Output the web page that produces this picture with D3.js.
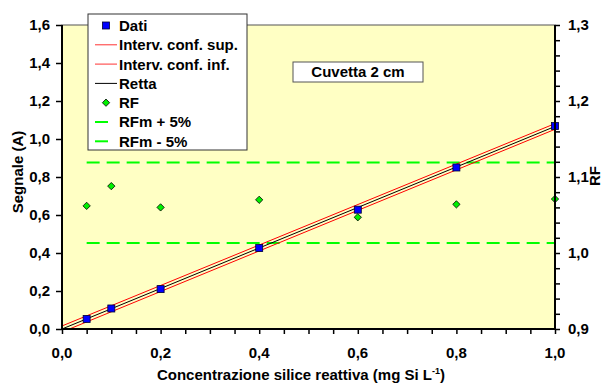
<!DOCTYPE html>
<html>
<head>
<meta charset="utf-8">
<script src="https://cdn.jsdelivr.net/npm/d3@7"></script>
<style>
  body { margin: 0; background: #fff; }
  svg { display: block; }
  svg text { font-family: "Liberation Sans", Arial, sans-serif; font-weight: 700; fill: #000; }
</style>
</head>
<body>
<svg id="chart"></svg>
<script>
// data
const conc = [0.05, 0.1, 0.2, 0.4, 0.6, 0.8, 1.0];
const segnale = [0.053, 0.108, 0.21, 0.426, 0.628, 0.85, 1.068];
const rf = [1.062, 1.088, 1.060, 1.070, 1.047, 1.064, 1.071];
const lineX = [0, 1.0];
const retta = [0.0, 1.066];
const confSup = [0.016, 1.081];
const confInf = [-0.016, 1.051];
const rfPlus = 1.119;
const rfMinus = 1.013;
const rfLineX = [0.05, 1.0];
const xTicks = [0, 0.2, 0.4, 0.6, 0.8, 1.0];
const yTicks = [0, 0.2, 0.4, 0.6, 0.8, 1.0, 1.2, 1.4, 1.6];
const y2Ticks = [0.9, 1.0, 1.1, 1.2, 1.3];
const legendItems = ['Dati', 'Interv. conf. sup.', 'Interv. conf. inf.', 'Retta', 'RF', 'RFm + 5%', 'RFm - 5%'];

const width = 604, height = 383;
const margin = { top: 25, right: 49, bottom: 54, left: 62 };
const fmt = d => d3.format('.1f')(d).replace('.', ',');
const fs = 15;

const svg = d3.select('#chart').attr('width', width).attr('height', height);

const x = d3.scaleLinear().domain([0, 1]).range([margin.left, width - margin.right]);
const y = d3.scaleLinear().domain([0, 1.6]).range([height - margin.bottom, margin.top]);
const y2 = d3.scaleLinear().domain([0.9, 1.3]).range([height - margin.bottom, margin.top]);

// plot area
svg.append('rect')
  .attr('x', x(0)).attr('y', y(1.6))
  .attr('width', x(1) - x(0)).attr('height', y(0) - y(1.6))
  .attr('fill', '#ffffc4').attr('stroke', '#555').attr('stroke-width', 1);

svg.append('clipPath').attr('id', 'clip').append('rect')
  .attr('x', x(0)).attr('y', y(1.6))
  .attr('width', x(1) - x(0)).attr('height', y(0) - y(1.6));

const plot = svg.append('g').attr('clip-path', 'url(#clip)');

// RF +/- 5% dashed lines
[rfPlus, rfMinus].forEach(v => {
  plot.append('line')
    .attr('x1', x(rfLineX[0])).attr('x2', x(rfLineX[1]))
    .attr('y1', y2(v)).attr('y2', y2(v))
    .attr('stroke', '#00ff00').attr('stroke-width', 2)
    .attr('stroke-dasharray', '13,7');
});

const line = vals => d3.line().x((d, i) => x(lineX[i])).y(d => y(d))(vals);

plot.append('path').attr('d', line(confSup)).attr('stroke', '#ff0000').attr('fill', 'none').attr('stroke-width', 1);
plot.append('path').attr('d', line(confInf)).attr('stroke', '#ff0000').attr('fill', 'none').attr('stroke-width', 1);
plot.append('path').attr('d', line(retta)).attr('stroke', '#000').attr('fill', 'none').attr('stroke-width', 1);

// RF diamonds
const diamond = d3.symbol().type(d3.symbolDiamond2).size(34);
svg.append('g').selectAll('path')
  .data(conc)
  .enter()
  .append('path')
  .attr('d', diamond)
  .attr('transform', (d, i) => 'translate(' + x(d) + ',' + y2(rf[i]) + ')')
  .attr('fill', '#00f000').attr('stroke', '#000').attr('stroke-width', 0.8);

// data squares
svg.append('g').selectAll('rect')
  .data(conc)
  .enter()
  .append('rect')
  .attr('x', d => x(d) - 3.5)
  .attr('y', (d, i) => y(segnale[i]) - 3.5)
  .attr('width', 7).attr('height', 7)
  .attr('fill', '#0000ff').attr('stroke', '#000033').attr('stroke-width', 0.8);

// axes
const xAxis = svg.append('g').attr('transform', 'translate(0,' + y(0) + ')');
xAxis.call(d3.axisBottom(x).tickValues(d3.range(0, 1.0001, 0.05)).tickSize(5).tickFormat(''));
xAxis.select('.domain').attr('stroke-width', 2).attr('d', 'M' + x(0) + ',0H' + x(1));
xAxis.selectAll('.tick line').attr('stroke-width', 1.5);
svg.append('g').selectAll('text')
  .data(xTicks).enter().append('text')
  .attr('x', d => x(d)).attr('y', y(0) + 29)
  .attr('text-anchor', 'middle').attr('font-size', fs)
  .text(fmt);

const yAxis = svg.append('g').attr('transform', 'translate(' + x(0) + ',0)');
yAxis.call(d3.axisLeft(y).tickValues(yTicks).tickSize(6).tickFormat(''));
yAxis.select('.domain').attr('stroke-width', 2).attr('d', 'M0,' + y(0) + 'V' + y(1.6));
yAxis.selectAll('.tick line').attr('stroke-width', 1.5);
svg.append('g').selectAll('text')
  .data(yTicks).enter().append('text')
  .attr('x', x(0) - 12).attr('y', d => y(d)).attr('dy', '0.36em')
  .attr('text-anchor', 'end').attr('font-size', fs)
  .text(fmt);

const y2Axis = svg.append('g').attr('transform', 'translate(' + x(1) + ',0)');
y2Axis.call(d3.axisRight(y2).tickValues(d3.range(0.9, 1.3001, 0.02)).tickSize(5).tickFormat(''));
y2Axis.select('.domain').attr('stroke-width', 2).attr('d', 'M0,' + y2(0.9) + 'V' + y2(1.3));
y2Axis.selectAll('.tick line').attr('stroke-width', 1.5);
svg.append('g').selectAll('text')
  .data(y2Ticks).enter().append('text')
  .attr('x', x(1) + 13).attr('y', d => y2(d)).attr('dy', '0.36em')
  .attr('text-anchor', 'start').attr('font-size', fs)
  .text(fmt);

// axis titles
svg.append('text')
  .attr('transform', 'translate(23,172) rotate(-90)')
  .attr('text-anchor', 'middle').attr('font-size', fs)
  .text('Segnale (A)');

svg.append('text')
  .attr('transform', 'translate(600,176) rotate(-90)')
  .attr('text-anchor', 'middle').attr('font-size', fs)
  .text('RF');

const xt = svg.append('text')
  .attr('x', 301).attr('y', 380)
  .attr('text-anchor', 'middle').attr('font-size', fs);
xt.append('tspan').text('Concentrazione silice reattiva (mg Si L');
xt.append('tspan').attr('font-size', 9).attr('dy', -6).text('-1');
xt.append('tspan').attr('dy', 6).text(')');

// legend
const lg = svg.append('g').attr('transform', 'translate(88,14)');
lg.append('rect').attr('width', 159).attr('height', 136)
  .attr('fill', '#fff').attr('stroke', '#333').attr('stroke-width', 1);
const row = 19.3, r0 = 11.5;
legendItems.forEach((name, i) => {
  const cy = r0 + i * row;
  const g = lg.append('g').attr('transform', 'translate(0,' + cy + ')');
  if (i === 0) {
    g.append('rect').attr('x', 14.5).attr('y', -3.5).attr('width', 7).attr('height', 7)
      .attr('fill', '#0000ff').attr('stroke', '#000033').attr('stroke-width', 0.8);
  } else if (i === 4) {
    g.append('path').attr('d', diamond).attr('transform', 'translate(18,0)')
      .attr('fill', '#00f000').attr('stroke', '#000').attr('stroke-width', 0.8);
  } else {
    const col = i === 3 ? '#000' : (i < 3 ? '#ff3333' : '#00ff00');
    g.append('line').attr('x1', 7).attr('x2', 29).attr('y1', 0).attr('y2', 0)
      .attr('stroke', col).attr('stroke-width', i > 4 ? 2 : 1)
      .attr('stroke-dasharray', i > 4 ? '13,9' : null);
  }
  g.append('text').attr('x', 31).attr('dy', '0.36em').attr('font-size', fs).text(name);
});

// label box
const cb = svg.append('g').attr('transform', 'translate(293,62)');
cb.append('rect').attr('width', 130).attr('height', 20)
  .attr('fill', '#fff').attr('stroke', '#555').attr('stroke-width', 1);
cb.append('text').attr('x', 65).attr('y', 10).attr('dy', '0.36em')
  .attr('text-anchor', 'middle').attr('font-size', fs).text('Cuvetta 2 cm');
</script>
</body>
</html>
